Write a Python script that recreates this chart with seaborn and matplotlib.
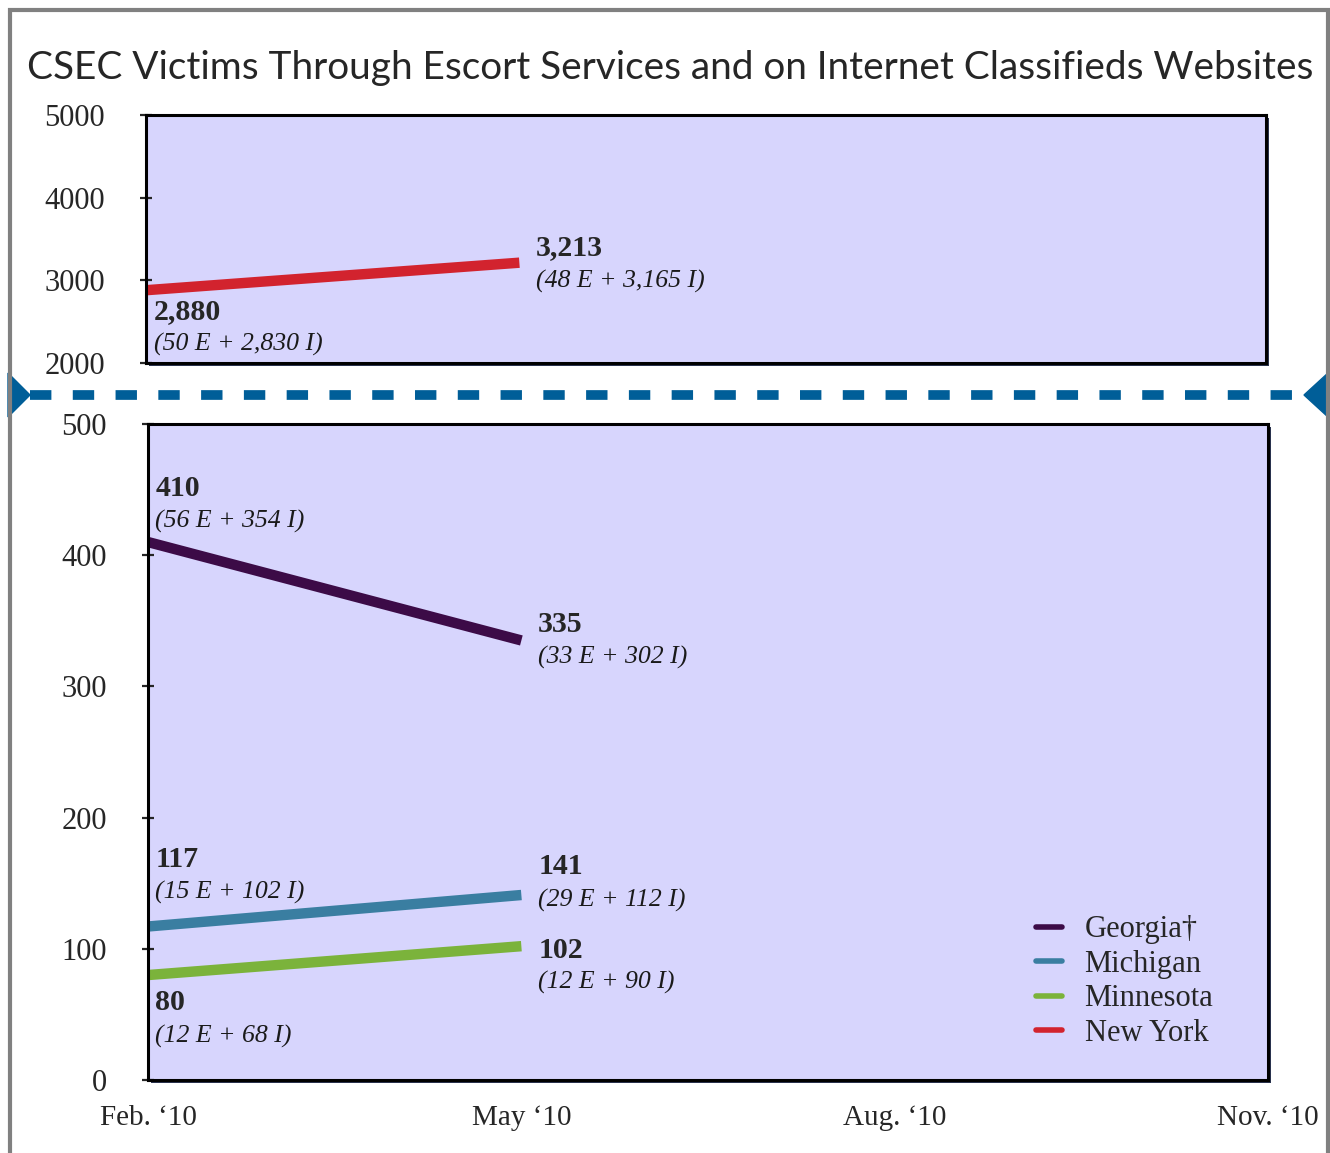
import pandas as pd
import seaborn as sns
import matplotlib.pyplot as plt
from matplotlib.patches import Rectangle, Polygon
from matplotlib.lines import Line2D

# Data
periods = ["Feb. \u201810", "May \u201810", "Aug. \u201810", "Nov. \u201810"]
states = ["Georgia\u2020", "Michigan", "Minnesota", "New York"]
feb_totals = [410, 117, 80, 2880]
may_totals = [335, 141, 102, 3213]
feb_parts = ["(56 E + 354 I)", "(15 E + 102 I)", "(12 E + 68 I)", "(50 E + 2,830 I)"]
may_parts = ["(33 E + 302 I)", "(29 E + 112 I)", "(12 E + 90 I)", "(48 E + 3,165 I)"]
colors = ["#3c0b47", "#3a7ea1", "#7bb33b", "#d2232e"]

df = pd.DataFrame({
    "state": states * 2,
    "period": [0] * 4 + [1] * 4,
    "victims": feb_totals + may_totals,
})
palette = dict(zip(states, colors))

sns.set_style("white")
plt.rcParams["font.family"] = ["Liberation Serif", "DejaVu Serif"]
plt.rcParams["axes.linewidth"] = 2.2

fig = plt.figure(figsize=(13.3, 11.53), dpi=100)
bg = "#d7d5fd"

ax_top = fig.add_axes([0.1098, 0.6852, 0.8421, 0.2151])
ax_bot = fig.add_axes([0.1113, 0.0633, 0.8421, 0.5690])

# drop shadows behind the panels
for ax in (ax_top, ax_bot):
    p = ax.get_position()
    fig.add_artist(Rectangle((p.x0 + 3 / 1330, p.y0 - 3 / 1153), p.width, p.height,
                             transform=fig.transFigure, facecolor="#2b3450",
                             edgecolor="none", zorder=-1))

ny = df[df["state"] == "New York"]
rest = df[df["state"] != "New York"]
sns.lineplot(data=ny, x="period", y="victims", hue="state", palette=palette,
             linewidth=7.5, legend=False, ax=ax_top, solid_capstyle="butt")
sns.lineplot(data=rest, x="period", y="victims", hue="state", palette=palette,
             linewidth=7.5, legend=False, ax=ax_bot, solid_capstyle="butt")

for ax in (ax_top, ax_bot):
    ax.set_facecolor(bg)
    ax.set_xlim(0, 3)
    ax.set_xlabel("")
    ax.set_ylabel("")
    for s in ax.spines.values():
        s.set_color("black")
        s.set_linewidth(2.2)
    ax.tick_params(axis="y", direction="inout", length=9, width=1.6,
                   labelsize=22, pad=25, left=True)
    ax.grid(False)

ax_top.set_ylim(2000, 5000)
ax_top.set_yticks([2000, 3000, 4000, 5000])
ax_top.set_xticks([])

ax_bot.set_ylim(0, 500)
ax_bot.set_yticks([0, 100, 200, 300, 400, 500])
ax_bot.set_xticks(range(len(periods)))
ax_bot.set_xticklabels(periods)
ax_bot.tick_params(axis="x", length=0, labelsize=21, pad=18)

# annotations (label offsets in data units)
offsets_bot = {
    "Georgia\u2020": ((41, 16), (12, -13)),
    "Michigan": ((51, 26), (22, -4)),
    "Minnesota": ((-21, -46.5), (-3, -28)),
}
bold_kw = dict(fontsize=21.5, fontweight="bold", va="center", ha="left")
ital_kw = dict(fontsize=18.5, style="italic", va="center", ha="left", color="#1a1a1a")
for i, st in enumerate(states[:3]):
    (fb, fi), (mb, mi) = offsets_bot[st]
    ax_bot.text(0.02, feb_totals[i] + fb, f"{feb_totals[i]:,}", **bold_kw)
    ax_bot.text(0.02, feb_totals[i] + fi, feb_parts[i], **ital_kw)
    ax_bot.text(1.045, may_totals[i] + mb, f"{may_totals[i]:,}", **bold_kw)
    ax_bot.text(1.045, may_totals[i] + mi, may_parts[i], **ital_kw)

ax_top.text(0.02, feb_totals[3] - 263, f"{feb_totals[3]:,}", **bold_kw)
ax_top.text(0.02, feb_totals[3] - 662, feb_parts[3], **ital_kw)
ax_top.text(1.045, may_totals[3] + 178, f"{may_totals[3]:,}", **bold_kw)
ax_top.text(1.045, may_totals[3] - 221, may_parts[3], **ital_kw)

# legend
handles = [Line2D([0], [0], color=c, linewidth=4) for c in colors]
ax_bot.legend(handles, states, loc="lower left", bbox_to_anchor=(0.768, 0.007),
              frameon=False, fontsize=22, handlelength=0.85, handletextpad=0.75,
              labelspacing=0.18)

# title
fig.text(0.504, 0.941, "CSEC Victims Through Escort Services and on Internet Classifieds Websites",
         ha="center", va="center", fontsize=27.9, family=["Lato", "DejaVu Sans"])

# break marker between panels
yb = 1 - 395 / 1153
fig.add_artist(Line2D([30 / 1330, 1302 / 1330], [yb, yb], transform=fig.transFigure,
                      color="#005e98", linewidth=7, dashes=(2.2, 2.2)))
fig.add_artist(Polygon([[8 / 1330, yb + 22 / 1153], [8 / 1330, yb - 22 / 1153],
                        [30 / 1330, yb]], closed=True, transform=fig.transFigure,
                       color="#005e98"))
fig.add_artist(Polygon([[1328 / 1330, yb + 22 / 1153], [1328 / 1330, yb - 22 / 1153],
                        [1304 / 1330, yb]], closed=True, transform=fig.transFigure,
                       color="#005e98"))

# outer grey border
fig.add_artist(Rectangle((10 / 1330, -0.05), 1318 / 1330, 1.05 - 10 / 1153,
                         transform=fig.transFigure, fill=False,
                         edgecolor="#808080", linewidth=3))

fig.savefig("out.png", dpi=100)
